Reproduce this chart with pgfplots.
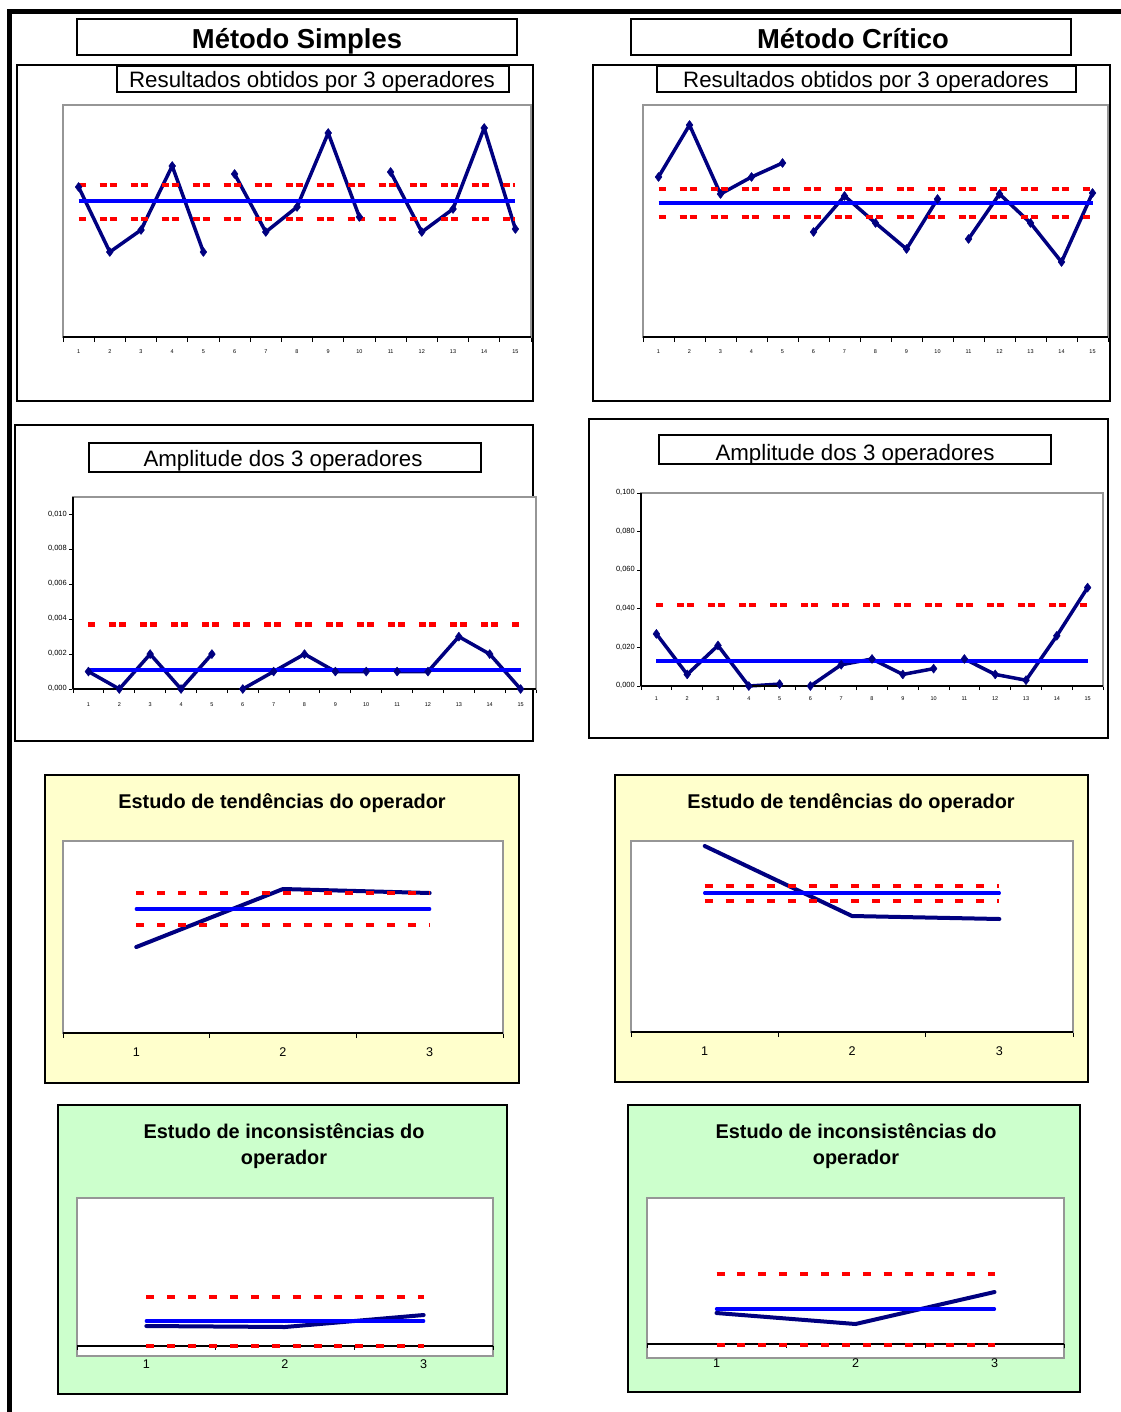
\documentclass[border=0pt]{standalone}
\usepackage{fontspec}
\setmainfont{Liberation Sans}
\usepackage{pgfplots}
\pgfplotsset{compat=1.18}
\definecolor{navyc}{RGB}{0,0,128}
\definecolor{bluec}{RGB}{0,0,255}
\definecolor{redc}{RGB}{255,0,0}
\definecolor{grayc}{RGB}{150,150,150}
\definecolor{yel}{RGB}{255,255,204}
\definecolor{grn}{RGB}{204,255,204}
\pgfplotsset{
  base/.style={
    scale only axis, anchor=south west,
    axis line style={grayc, line width=1.5pt},
    axis background/.style={fill=white},
    major tick length=5pt,
    tick align=outside, tick pos=left,
    tick style={black, line width=1pt},
    typeset ticklabels with strut,
    /pgf/number format/assume math mode=true,
    clip=false, ytick=\empty,
  },
  fifteen/.style={
    xmin=0.5, xmax=15.5,
    x tick label as interval,
    xtick={0.5,1.5,2.5,3.5,4.5,5.5,6.5,7.5,8.5,9.5,10.5,11.5,12.5,13.5,14.5,15.5},
    xticklabels={1,2,3,4,5,6,7,8,9,10,11,12,13,14,15},
  },
  three/.style={
    xmin=0.5, xmax=3.5,
  },
  navyl/.style={color=navyc, line width=3.5pt, line join=round, mark=diamond*, mark size=4.5pt, mark options={solid, line width=0.5pt}},
  centerl/.style={color=bluec, line width=4pt},
  limitl/.style={color=redc, line width=4.5pt, dash pattern=on 7pt off 3pt on 7pt off 14pt, dash phase=10pt},
  navyt/.style={color=navyc, line width=4pt, line join=round, line cap=round},
  centert/.style={color=bluec, line width=3.3pt, line cap=round},
  limitt/.style={color=redc, line width=4pt, dash pattern=on 8pt off 12.9pt},
}
\begin{document}
\begin{tikzpicture}
\useasboundingbox (0pt,0pt) rectangle (1120pt,-1412pt);
\begin{scope}[x=1pt,y=-1pt]
\draw[line width=5pt] (9,1414) -- (9,12) -- (1122,12);
% panel frames
\draw[line width=2pt, fill=white] (17,65) rectangle (533,401);
\draw[line width=2pt, fill=white] (593,65) rectangle (1110,401);
\draw[line width=2pt, fill=white] (15,425) rectangle (533,741);
\draw[line width=2pt, fill=white] (589,419) rectangle (1108,738);
\draw[line width=2pt, fill=yel] (45,775) rectangle (519,1083);
\draw[line width=2pt, fill=yel] (615,775) rectangle (1088,1082);
\draw[line width=2pt, fill=grn] (58,1105) rectangle (507,1394);
\draw[line width=2pt, fill=grn] (628,1105) rectangle (1080,1392);
% title boxes
\draw[line width=2pt, fill=white] (77,19) rectangle (517,55);
\draw[line width=2pt, fill=white] (631,19) rectangle (1071,55);
\node[anchor=base, inner sep=0pt, font=\fontsize{27.4}{30}\selectfont\bfseries] at (297,49) {Método Simples};
\node[anchor=base, inner sep=0pt, font=\fontsize{27.4}{30}\selectfont\bfseries] at (853,49) {Método Crítico};
% subtitle boxes
\draw[line width=2pt, fill=white] (117,66) rectangle (509,92);
\draw[line width=2pt, fill=white] (657,66) rectangle (1076,92);
\draw[line width=2pt, fill=white] (89,443) rectangle (481,472);
\draw[line width=2pt, fill=white] (659,435) rectangle (1051,464);
\node[anchor=base, inner sep=0pt, font=\fontsize{22.3}{25}\selectfont] at (312,88) {Resultados obtidos por 3 operadores};
\node[anchor=base, inner sep=0pt, font=\fontsize{22.3}{25}\selectfont] at (866,88) {Resultados obtidos por 3 operadores};
\node[anchor=base, inner sep=0pt, font=\fontsize{22.3}{25}\selectfont] at (283,466) {Amplitude dos 3 operadores};
\node[anchor=base, inner sep=0pt, font=\fontsize{22.3}{25}\selectfont] at (855,460) {Amplitude dos 3 operadores};
% panel titles
\node[anchor=base, inner sep=0pt, font=\fontsize{19.9}{22}\selectfont\bfseries] at (282,808) {Estudo de tendências do operador};
\node[anchor=base, inner sep=0pt, font=\fontsize{19.9}{22}\selectfont\bfseries] at (851,808) {Estudo de tendências do operador};
\node[anchor=base, inner sep=0pt, font=\fontsize{19.9}{22}\selectfont\bfseries] at (284,1138) {Estudo de inconsistências do};
\node[anchor=base, inner sep=0pt, font=\fontsize{19.9}{22}\selectfont\bfseries] at (284,1164) {operador};
\node[anchor=base, inner sep=0pt, font=\fontsize{19.9}{22}\selectfont\bfseries] at (856,1138) {Estudo de inconsistências do};
\node[anchor=base, inner sep=0pt, font=\fontsize{19.9}{22}\selectfont\bfseries] at (856,1164) {operador};
\end{scope}

% ---------- P1: Metodo Simples, resultados
\begin{axis}[base, fifteen, at={(63pt,-337pt)}, width=468pt, height=232pt, ymin=0, ymax=232,
  xticklabel style={font=\fontsize{5.5}{6}\selectfont, inner sep=1pt, anchor=north, yshift=-6pt}]
\addplot[navyl] coordinates {(1,150)(2,85)(3,107)(4,171)(5,85)};
\addplot[navyl] coordinates {(6,163)(7,105)(8,130)(9,204)(10,120)};
\addplot[navyl] coordinates {(11,165)(12,105)(13,128)(14,209)(15,108)};
\addplot[centerl] coordinates {(1,136)(15,136)};
\addplot[limitl] coordinates {(1,152)(15,152)};
\addplot[limitl] coordinates {(1,118)(15,118)};
\draw[black, line width=1.5pt] (rel axis cs:0,0) -- (rel axis cs:1,0);
\end{axis}

% ---------- P2: Metodo Critico, resultados
\begin{axis}[base, fifteen, at={(643pt,-337pt)}, width=465pt, height=232pt, ymin=0, ymax=232,
  xticklabel style={font=\fontsize{5.5}{6}\selectfont, inner sep=1pt, anchor=north, yshift=-6pt}]
\addplot[navyl] coordinates {(1,160)(2,212)(3,143)(4,160)(5,174)};
\addplot[navyl] coordinates {(6,105)(7,141)(8,114)(9,88)(10,138)};
\addplot[navyl] coordinates {(11,98)(12,143)(13,114)(14,75)(15,144)};
\addplot[centerl] coordinates {(1,134)(15,134)};
\addplot[limitl] coordinates {(1,148)(15,148)};
\addplot[limitl] coordinates {(1,120)(15,120)};
\draw[black, line width=1.5pt] (rel axis cs:0,0) -- (rel axis cs:1,0);
\end{axis}

% ---------- P3: amplitude simples
\begin{axis}[base, fifteen, at={(73pt,-689pt)}, width=463pt, height=192pt,
  ymin=0, ymax=0.011, scaled y ticks=false,
  ytick={0,0.002,0.004,0.006,0.008,0.010},
  major tick length=4pt,
  xticklabel style={font=\fontsize{5.5}{6}\selectfont, inner sep=1pt, anchor=north, yshift=-8pt},
  yticklabel style={font=\fontsize{7.5}{8}\selectfont, inner sep=2pt,
    /pgf/number format/fixed, /pgf/number format/fixed zerofill,
    /pgf/number format/precision=3, /pgf/number format/use comma}]
\addplot[navyl] coordinates {(1,0.001)(2,0)(3,0.002)(4,0)(5,0.002)};
\addplot[navyl] coordinates {(6,0)(7,0.001)(8,0.002)(9,0.001)(10,0.001)};
\addplot[navyl] coordinates {(11,0.001)(12,0.001)(13,0.003)(14,0.002)(15,0)};
\addplot[centerl] coordinates {(1,0.00107)(15,0.00107)};
\addplot[limitl] coordinates {(1,0.0037)(15,0.0037)};
\draw[black, line width=1.5pt] (rel axis cs:0,0) -- (rel axis cs:1,0);
\draw[black, line width=1.5pt] (rel axis cs:0,0) -- (rel axis cs:0,1);
\end{axis}

% ---------- P4: amplitude critico
\begin{axis}[base, fifteen, at={(641pt,-686pt)}, width=462pt, height=193pt,
  ymin=0, ymax=0.1, scaled y ticks=false,
  ytick={0,0.02,0.04,0.06,0.08,0.1},
  major tick length=4pt,
  xticklabel style={font=\fontsize{5.5}{6}\selectfont, inner sep=1pt, anchor=north, yshift=-5pt},
  yticklabel style={font=\fontsize{7.5}{8}\selectfont, inner sep=2pt,
    /pgf/number format/fixed, /pgf/number format/fixed zerofill,
    /pgf/number format/precision=3, /pgf/number format/use comma}]
\addplot[navyl] coordinates {(1,0.027)(2,0.006)(3,0.021)(4,0.000)(5,0.001)};
\addplot[navyl] coordinates {(6,0.000)(7,0.011)(8,0.014)(9,0.006)(10,0.009)};
\addplot[navyl] coordinates {(11,0.014)(12,0.006)(13,0.003)(14,0.026)(15,0.051)};
\addplot[centerl] coordinates {(1,0.013)(15,0.013)};
\addplot[limitl] coordinates {(1,0.042)(15,0.042)};
\draw[black, line width=1.5pt] (rel axis cs:0,0) -- (rel axis cs:1,0);
\draw[black, line width=1.5pt] (rel axis cs:0,0) -- (rel axis cs:0,1);
\end{axis}

% ---------- P5: tendencias simples
\begin{axis}[base, three, at={(63pt,-1033pt)}, width=440pt, height=192pt, ymin=0, ymax=192,
  x tick label as interval, xtick={0.5,1.5,2.5,3.5}, xticklabels={1,2,3},
  xticklabel style={font=\fontsize{12.6}{14}\selectfont, anchor=north, yshift=-5pt}]
\addplot[navyt] coordinates {(1,86)(2,144)(3,140)};
\addplot[centert] coordinates {(1,124)(3,124)};
\addplot[limitt] coordinates {(1,140)(3,140)};
\addplot[limitt] coordinates {(1,108)(3,108)};
\draw[black, line width=1.5pt] (rel axis cs:0,0) -- (rel axis cs:1,0);
\end{axis}

% ---------- P6: tendencias critico
\begin{axis}[base, three, at={(631pt,-1032pt)}, width=442pt, height=191pt, ymin=0, ymax=191,
  x tick label as interval, xtick={0.5,1.5,2.5,3.5}, xticklabels={1,2,3},
  xticklabel style={font=\fontsize{12.6}{14}\selectfont, anchor=north, yshift=-5pt}]
\addplot[navyt] coordinates {(1,186)(2,116)(3,113)};
\addplot[centert] coordinates {(1,139)(3,139)};
\addplot[limitt] coordinates {(1,146)(3,146)};
\addplot[limitt] coordinates {(1,131)(3,131)};
\draw[black, line width=1.5pt] (rel axis cs:0,0) -- (rel axis cs:1,0);
\end{axis}

% ---------- P7: inconsistencias simples
\begin{axis}[base, three, at={(77pt,-1356pt)}, width=416pt, height=158pt, ymin=-10, ymax=148,
  xtick={1,2,3}, major tick length=0pt,
  xticklabel style={font=\fontsize{12.6}{14}\selectfont, inner sep=1pt, anchor=north, yshift=-1pt}]
\addplot[navyt] coordinates {(1,20)(2,19)(3,31)};
\addplot[centert] coordinates {(1,25)(3,25)};
\addplot[limitt] coordinates {(1,49)(3,49)};
\draw[black, line width=1.5pt] (axis cs:0.5,0) -- (axis cs:3.5,0);
\pgfplotsinvokeforeach{0.5,1.5,2.5,3.5}{\draw[black, line width=1pt] (axis cs:#1,0) -- ++(0pt,-4pt);}
\addplot[limitt] coordinates {(1,0)(3,0)};
\end{axis}

% ---------- P8: inconsistencias critico
\begin{axis}[base, three, at={(647pt,-1358pt)}, width=417pt, height=160pt, ymin=-14, ymax=146,
  xtick={1,2,3}, major tick length=0pt,
  xticklabel style={font=\fontsize{12.6}{14}\selectfont, inner sep=1pt, anchor=north, yshift=2pt}]
\addplot[navyt] coordinates {(1,31)(2,20)(3,52)};
\addplot[centert] coordinates {(1,35)(3,35)};
\addplot[limitt, line width=3.3pt] coordinates {(1,70)(3,70)};
\draw[black, line width=1.5pt] (axis cs:0.5,0) -- (axis cs:3.5,0);
\pgfplotsinvokeforeach{0.5,1.5,2.5,3.5}{\draw[black, line width=1pt] (axis cs:#1,0) -- ++(0pt,-4pt);}
\addplot[limitt, line width=3.3pt] coordinates {(1,-1)(3,-1)};
\end{axis}
\end{tikzpicture}
\end{document}
